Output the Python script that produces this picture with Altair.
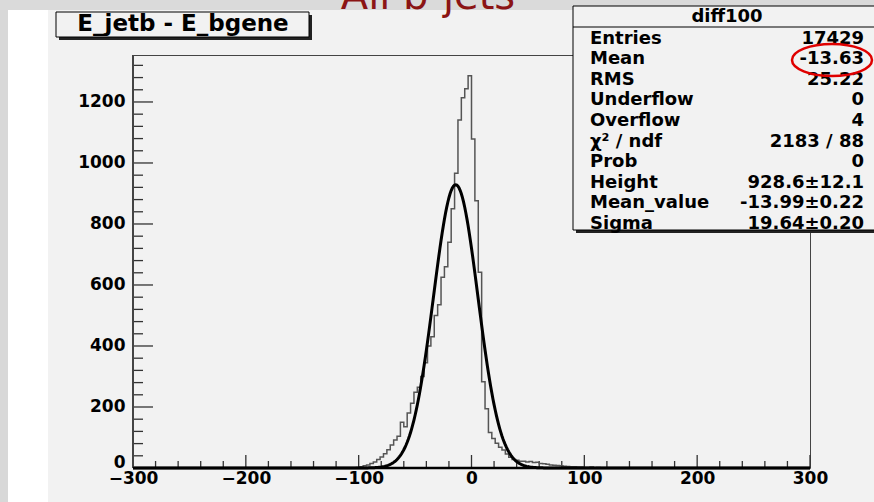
import altair as alt
import numpy as np
import pandas as pd

FONT = "DejaVu Sans"

# ---------------- data ----------------
BIN_LO, BIN_HI, BIN_W = -300, 300, 3
FIRST_EDGE = -105  # left edge of first listed (non-empty) bin
counts = [1, 2, 4, 7, 10, 15, 20, 28, 36, 47, 60, 75, 92, 104, 150, 135, 180, 212,
          248, 265, 300, 345, 400, 430, 500, 535, 625, 660, 740, 850, 966, 1141,
          1214, 1243, 1286, 1079, 876, 642, 283, 194, 116, 97, 81, 68, 59, 46, 35,
          28, 25, 22, 22, 20, 21, 18, 19, 15, 14, 12, 10, 9, 8, 7, 6, 5, 4, 4, 3,
          3, 2, 2, 3, 1, 2, 1, 1, 1, 0, 1, 1, 0, 1, 0, 1]

fit_height = 928.6
fit_mean = -13.99
fit_sigma = 19.64

stat_title = "diff100"
stat_labels = ["Entries", "Mean", "RMS", "Underflow", "Overflow", "\u03c7\u00b2 / ndf",
               "Prob", "Height", "Mean_value", "Sigma"]
stat_values = ["17429", "-13.63", "25.22", "0", "4", "2183 / 88", "0",
               "928.6\u00b112.1", "-13.99\u00b10.22", "19.64\u00b10.20"]

hist_title = "E_jetb - E_bgene"
page_title = "All b-jets"

x_major = [-300, -200, -100, 0, 100, 200, 300]
y_major = [0, 200, 400, 600, 800, 1000, 1200]
x_minor = [v for v in range(-300, 301, 20) if v % 100 != 0]
y_minor = [v for v in range(40, 1321, 40) if v % 200 != 0]
Y_MAX = 1354

# ---------------- tables ----------------
n_bins = (BIN_HI - BIN_LO) // BIN_W
full = [0] * n_bins
off = (FIRST_EDGE - BIN_LO) // BIN_W
for i, c in enumerate(counts):
    full[off + i] = c
edges = [BIN_LO + i * BIN_W for i in range(n_bins)] + [BIN_HI]
hist_df = pd.DataFrame({"x": edges, "count": full + [full[-1]]})

fx = np.linspace(BIN_LO, BIN_HI, 601)
fit_df = pd.DataFrame({"x": fx,
                       "f": fit_height * np.exp(-0.5 * ((fx - fit_mean) / fit_sigma) ** 2)})

one = pd.DataFrame({"k": [0]})

W, H = 677, 413
PL, PT = 133, 55


def X(field):
    return alt.X(field, type="quantitative",
                 scale=alt.Scale(domain=[BIN_LO, BIN_HI], nice=False, zero=False),
                 axis=alt.Axis(values=x_major, ticks=False, domain=False, grid=False,
                               title=None, labelFont=FONT, labelFontSize=17,
                               labelFontWeight="bold", labelColor="black",
                               labelPadding=2, labelFlush=False, labelOverlap=False,
                               labelBaseline="top", format="d"))


def Y(field):
    return alt.Y(field, type="quantitative",
                 scale=alt.Scale(domain=[0, Y_MAX], nice=False, zero=True),
                 axis=alt.Axis(values=y_major, ticks=False, domain=False, grid=False,
                               title=None, labelFont=FONT, labelFontSize=17,
                               labelFontWeight="bold", labelColor="black",
                               labelPadding=8, labelOverlap=False, labelFlush=False,
                               format="d",
                               labelOffset={"condition": {"test": "datum.value == 0", "value": -6},
                                            "value": 0}))


def rect(x1, x2, y1, y2, fill, stroke=None, sw=1):
    kw = dict(fill=fill, clip=False)
    if stroke:
        kw.update(stroke=stroke, strokeWidth=sw)
    return alt.Chart(one).mark_rect(**kw).encode(
        x=alt.value(x1 - PL), x2=alt.value(x2 - PL),
        y=alt.value(y1 - PT), y2=alt.value(y2 - PT))


layers = []
# page decoration
layers.append(rect(0, 874, 0, 10, "#dadada"))
layers.append(rect(0, 8, 10, 502, "#d8d8d8"))
layers.append(rect(8, 48, 10, 502, "#ffffff"))
layers.append(alt.Chart(one).mark_text(font=FONT, fontSize=40, color="#8b1414",
                                       baseline="alphabetic", align="center", clip=False)
              .encode(x=alt.value(428 - PL), y=alt.value(9 - PT), text=alt.value(page_title)))

# title box
layers.append(rect(59, 312, 15, 40, "#222222"))
layers.append(rect(56, 309, 12, 37, "#f2f2f2", "black", 1))
layers.append(alt.Chart(one).mark_text(font=FONT, fontSize=23, fontWeight="bold",
                                       color="black", align="center", baseline="middle",
                                       clip=False)
              .encode(x=alt.value(183 - PL), y=alt.value(24 - PT), text=alt.value(hist_title)))

# ticks
ymaj = pd.DataFrame({"v": y_major})
ymin = pd.DataFrame({"v": y_minor})
xmaj = pd.DataFrame({"v": x_major})
xmin = pd.DataFrame({"v": x_minor})
layers.append(alt.Chart(ymaj).mark_rule(color="#333333", strokeWidth=1.3).encode(
    y=Y("v"), x=alt.value(0), x2=alt.value(20)))
layers.append(alt.Chart(ymin).mark_rule(color="#333333", strokeWidth=1.3).encode(
    y=Y("v"), x=alt.value(0), x2=alt.value(10)))
layers.append(alt.Chart(xmaj).mark_rule(color="#333333", strokeWidth=1.3).encode(
    x=X("v"), y=alt.value(H), y2=alt.value(H - 13)))
layers.append(alt.Chart(xmin).mark_rule(color="#333333", strokeWidth=1.3).encode(
    x=X("v"), y=alt.value(H), y2=alt.value(H - 7)))

# histogram and fit
layers.append(alt.Chart(hist_df).mark_line(interpolate="step-after", color="#555555",
                                           strokeWidth=1.5).encode(x=X("x"), y=Y("count")))
layers.append(alt.Chart(fit_df).mark_line(color="black", strokeWidth=3).encode(
    x=X("x"), y=Y("f")))

# axis lines
layers.append(alt.Chart(one).mark_rule(color="#444444", strokeWidth=2).encode(
    x=alt.value(0), y=alt.value(0), y2=alt.value(H)))
layers.append(alt.Chart(one).mark_rule(color="black", strokeWidth=2.5).encode(
    x=alt.value(0), x2=alt.value(W), y=alt.value(H)))

# stats box
layers.append(rect(576, 884, 9, 233, "#222222"))
layers.append(rect(573, 881, 6, 230, "#f2f2f2", "black", 1))
layers.append(alt.Chart(one).mark_rule(color="black", strokeWidth=1, clip=False).encode(
    x=alt.value(573 - PL), x2=alt.value(881 - PL), y=alt.value(27 - PT)))
layers.append(alt.Chart(one).mark_text(font=FONT, fontSize=18, fontWeight="bold",
                                       color="black", align="center", baseline="alphabetic",
                                       clip=False)
              .encode(x=alt.value(727 - PL), y=alt.value(21.5 - PT), text=alt.value(stat_title)))
layers.append(alt.Chart(one).mark_text(font=FONT, fontSize=18, fontWeight="bold",
                                       color="black", align="left", baseline="alphabetic",
                                       lineHeight=20.6, clip=False)
              .encode(x=alt.value(590 - PL), y=alt.value(43.5 - PT), text=alt.value(stat_labels)))
layers.append(alt.Chart(one).mark_text(font=FONT, fontSize=18, fontWeight="bold",
                                       color="black", align="right", baseline="alphabetic",
                                       lineHeight=20.6, clip=False)
              .encode(x=alt.value(864 - PL), y=alt.value(43.5 - PT), text=alt.value(stat_values)))

# red ellipse around the mean
ellipse = "M -1 0 A 1 0.4 0 1 0 1 0 A 1 0.4 0 1 0 -1 0 Z"
layers.append(alt.Chart(one).mark_point(shape=ellipse, size=80 * 80, filled=False,
                                        stroke="#e00000", strokeWidth=2.5, opacity=1,
                                        clip=False)
              .encode(x=alt.value(832 - PL), y=alt.value(60 - PT)))

chart = alt.layer(*layers).properties(
    width=W, height=H,
    autosize=alt.AutoSizeParams(type="none"),
    padding={"left": PL, "top": PT, "right": 874 - PL - W, "bottom": 502 - PT - H},
    background="#f2f2f2",
).configure_view(stroke="#444444", strokeWidth=1, fill="#f2f2f2")

chart.save("out.html", embed_options={"renderer": "svg", "actions": False})
